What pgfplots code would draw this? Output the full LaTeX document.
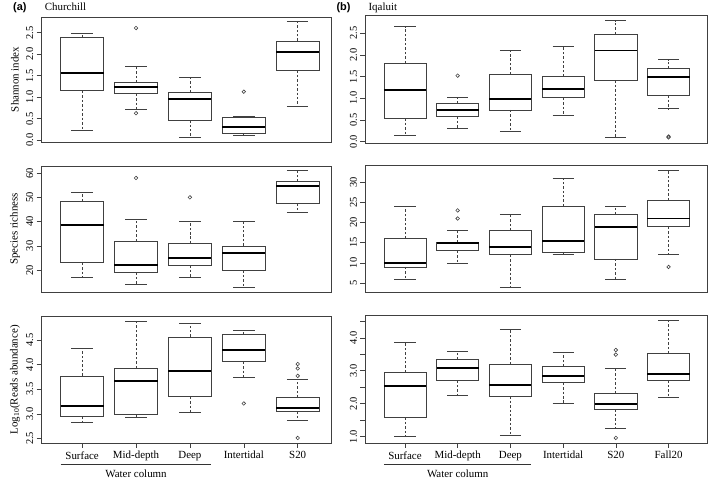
\documentclass[border=0pt]{standalone}
\usepackage{pgfplots}
\pgfplotsset{compat=1.18}
\usepgfplotslibrary{statistics}
\usepackage{fontspec}
\setmainfont{Liberation Serif}
\newfontfamily\arialbf{Liberation Sans}
\begin{document}
\pgfplotsset{
  boxplot/draw/lower whisker/.code={%
    \draw[/pgfplots/boxplot/every whisker/.try, dash pattern=on 2.5pt off 2pt]
      (boxplot box cs:\pgfplotsboxplotvalue{lower quartile},0.5) --
      (boxplot box cs:\pgfplotsboxplotvalue{lower whisker},0.5);
    \draw[/pgfplots/boxplot/every whisker/.try, solid]
      (boxplot whisker cs:\pgfplotsboxplotvalue{lower whisker},0) --
      (boxplot whisker cs:\pgfplotsboxplotvalue{lower whisker},1);
  },
  boxplot/draw/upper whisker/.code={%
    \draw[/pgfplots/boxplot/every whisker/.try, dash pattern=on 2.5pt off 2pt]
      (boxplot box cs:\pgfplotsboxplotvalue{upper quartile},0.5) --
      (boxplot box cs:\pgfplotsboxplotvalue{upper whisker},0.5);
    \draw[/pgfplots/boxplot/every whisker/.try, solid]
      (boxplot whisker cs:\pgfplotsboxplotvalue{upper whisker},0) --
      (boxplot whisker cs:\pgfplotsboxplotvalue{upper whisker},1);
  },
  bxs/.style={draw=black!75, line width=0.7pt, solid, fill=none,
     mark=o, mark size=1.8pt, mark options={solid, draw=black!75, line width=0.6pt},
     boxplot/draw direction=y,
     boxplot/box extend=0.8, boxplot/whisker extend=0.4,
     boxplot/every median/.style={draw=black, line width=2pt},
     boxplot/every whisker/.style={draw=black!75, line width=0.7pt}},
  panel/.style={scale only axis, anchor=south west, clip=false,
     boxplot/draw direction=y,
     axis line style={black!75, line width=0.6pt},
     tick style={black!75, line width=0.6pt},
     tick align=outside, major tick length=5pt,
     xtick=\empty, xtick pos=bottom, ytick pos=left,
     yticklabel style={rotate=90, anchor=south},
     /pgf/number format/assume math mode=true,
     tick label style={font=\fontsize{10.5}{12}\selectfont},
     xticklabel style={font=\fontsize{11}{13}\selectfont},
     every axis y label/.style={at={(axis description cs:0,0.5)}, xshift=-27pt, rotate=90, anchor=center, font=\fontsize{11}{13}\selectfont},
  },
  dec/.style={yticklabel style={/pgf/number format/.cd, fixed, fixed zerofill, precision=1}},
  lft/.style={panel, width=292pt, xmin=0.25, xmax=5.63},
  rgt/.style={panel, width=344pt, xmin=0.25, xmax=6.73},
}
\newcommand{\bx}[7]{\addplot[bxs, boxplot prepared={draw position=#1, lower whisker=#2, lower quartile=#3, median=#4, upper quartile=#5, upper whisker=#6}] coordinates {#7};}
\begin{tikzpicture}[x=1pt,y=1pt]
\useasboundingbox (0pt,0pt) rectangle (709pt,482pt);
\node[anchor=base, inner sep=0, font=\arialbf\bfseries\fontsize{11}{13}\selectfont] at (15pt,471pt) {(a)};
\node[anchor=base west, inner sep=0, font=\fontsize{11}{13}\selectfont] at (40pt,471pt) {Churchill};
\node[anchor=base, inner sep=0, font=\arialbf\bfseries\fontsize{11}{13}\selectfont] at (341pt,471pt) {(b)};
\node[anchor=base west, inner sep=0, font=\fontsize{11}{13}\selectfont] at (366pt,471pt) {Iqaluit};

% ---------- Left top: Shannon, Churchill
\begin{axis}[lft, dec, at={(37pt,339pt)}, height=126pt, ymin=-0.04, ymax=2.87,
  ytick={0,0.5,...,2.5}, ylabel={Shannon index}]
\bx{1}{0.24}{1.15}{1.57}{2.39}{2.49}{}
\bx{2}{0.72}{1.08}{1.24}{1.34}{1.71}{(2,2.61) (2,0.63)}
\bx{3}{0.07}{0.47}{0.97}{1.11}{1.46}{}
\bx{4}{0.11}{0.16}{0.31}{0.53}{0.55}{(4,1.13)}
\bx{5}{0.78}{1.63}{2.06}{2.31}{2.76}{}
\end{axis}

% ---------- Left middle: Species richness, Churchill
\begin{axis}[lft, at={(37pt,188pt)}, height=127pt, ymin=11.0, ymax=63.0,
  ytick={20,30,...,60}, ylabel={Species richness}]
\bx{1}{17}{23.1}{38.6}{48.4}{52.1}{}
\bx{2}{14}{19}{22}{32}{41}{(2,58)}
\bx{3}{17}{22}{25}{31}{40}{(3,50)}
\bx{4}{13}{20}{27}{30}{40}{}
\bx{5}{44}{47.5}{54.7}{56.5}{61}{}
\end{axis}

% ---------- Left bottom: Log10 reads, Churchill
\begin{axis}[lft, dec, at={(37pt,36pt)}, height=127pt, ymin=2.41, ymax=4.97,
  ytick={2.5,3,...,4.5}, ylabel={Log\textsubscript{10}(Reads abundance)},
  xtick={1,2,3,4,5}, xticklabels={Surface,Mid-depth,Deep,Intertidal,S20}]
\bx{1}{2.82}{2.95}{3.15}{3.77}{4.33}{}
\bx{2}{2.92}{2.99}{3.67}{3.93}{4.87}{}
\bx{3}{3.02}{3.35}{3.86}{4.56}{4.84}{}
\bx{4}{3.75}{4.06}{4.30}{4.61}{4.70}{(4,3.21)}
\bx{5}{2.86}{3.05}{3.11}{3.33}{3.69}{(5,4.01) (5,3.92) (5,3.77) (5,2.51)}
\draw[black!80, line width=0.6pt] ([yshift=-22pt]axis cs:0.6,2.41) -- ([yshift=-22pt]axis cs:3.4,2.41);
\node[font=\fontsize{11}{13}\selectfont, inner sep=0] at ([yshift=-31pt]axis cs:2,2.41) {Water column};
\end{axis}

% ---------- Right top: Shannon, Iqaluit
\begin{axis}[rgt, dec, at={(363pt,338pt)}, height=129pt, ymin=-0.03, ymax=2.92,
  ytick={0,0.5,...,2.5}]
\bx{1}{0.14}{0.54}{1.20}{1.81}{2.65}{}
\bx{2}{0.31}{0.58}{0.73}{0.88}{1.01}{(2,1.52)}
\bx{3}{0.24}{0.73}{0.98}{1.55}{2.10}{}
\bx{4}{0.61}{1.01}{1.22}{1.50}{2.20}{}
\bx{5}{0.09}{1.41}{2.10}{2.47}{2.79}{}
\bx{6}{0.76}{1.07}{1.48}{1.68}{1.89}{(6,0.10) (6,0.12)}
\end{axis}

% ---------- Right middle: Species richness, Iqaluit
\begin{axis}[rgt, at={(363pt,188pt)}, height=128pt, ymin=2.8, ymax=34.3,
  ytick={5,10,...,30}]
\bx{1}{6}{9}{10}{16}{24}{}
\bx{2}{10}{13}{15}{15.1}{18}{(2,21) (2,23)}
\bx{3}{4}{12}{14}{18}{22}{}
\bx{4}{12}{12.5}{15.5}{24}{31}{}
\bx{5}{6}{11}{19}{22}{24}{}
\bx{6}{12}{19}{21}{25.5}{33}{(6,9)}
\end{axis}

% ---------- Right bottom: Log10 reads, Iqaluit
\begin{axis}[rgt, at={(363pt,36pt)}, height=128pt, ymin=0.81, ymax=4.67,
  ytick={1,1.5,...,4.5}, yticklabels={1.0,,2.0,,3.0,,4.0,},
  xtick={1,2,3,4,5,6}, xticklabels={Surface,Mid-depth,Deep,Intertidal,S20,Fall20}]
\bx{1}{1.00}{1.58}{2.53}{2.95}{3.85}{}
\bx{2}{2.24}{2.71}{3.09}{3.34}{3.60}{}
\bx{3}{1.05}{2.23}{2.56}{3.20}{4.25}{}
\bx{4}{2.00}{2.64}{2.85}{3.12}{3.56}{}
\bx{5}{1.26}{1.83}{1.99}{2.31}{3.06}{(5,3.63) (5,3.49) (5,0.96)}
\bx{6}{2.20}{2.71}{2.90}{3.52}{4.53}{}
\draw[black!80, line width=0.6pt] ([yshift=-22pt]axis cs:0.6,0.81) -- ([yshift=-22pt]axis cs:3.4,0.81);
\node[font=\fontsize{11}{13}\selectfont, inner sep=0] at ([yshift=-31pt]axis cs:2,0.81) {Water column};
\end{axis}
\end{tikzpicture}
\end{document}
